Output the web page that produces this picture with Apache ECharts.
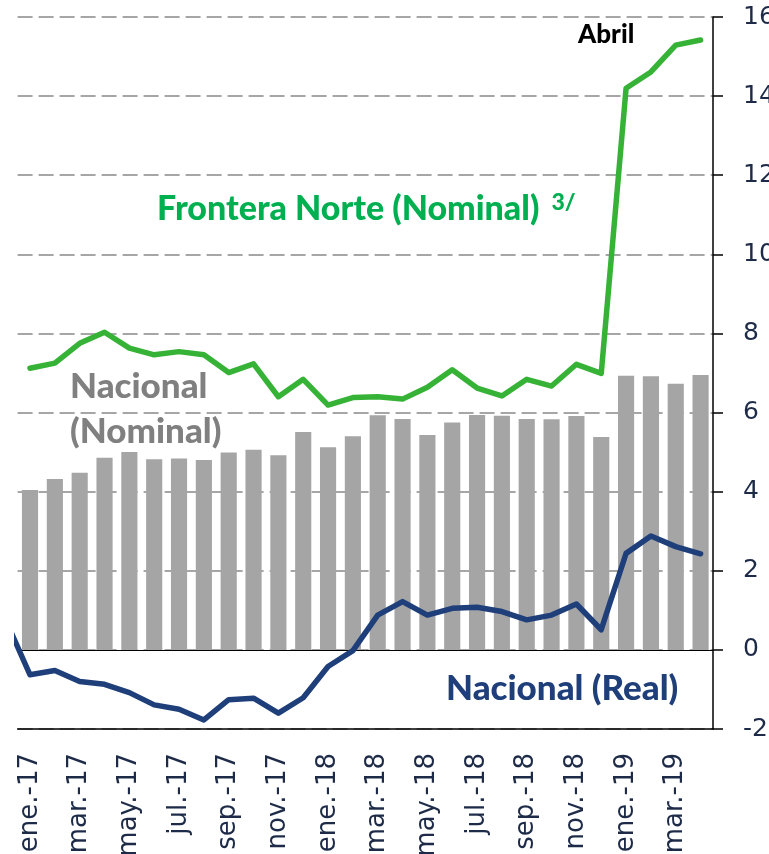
<!DOCTYPE html>
<html>
<head>
<meta charset="utf-8">
<style>
  html, body { margin: 0; padding: 0; background: #fff; }
  #chart { width: 769px; height: 854px; }
</style>
<script src="https://cdn.jsdelivr.net/npm/echarts@6/dist/echarts.min.js"></script>
</head>
<body>
<div id="chart"></div>
<script>
// Months, January 2017 to April 2019
const months = [
  'ene.-17','feb.-17','mar.-17','abr.-17','may.-17','jun.-17','jul.-17','ago.-17','sep.-17','oct.-17','nov.-17','dic.-17',
  'ene.-18','feb.-18','mar.-18','abr.-18','may.-18','jun.-18','jul.-18','ago.-18','sep.-18','oct.-18','nov.-18','dic.-18',
  'ene.-19','feb.-19','mar.-19','abr.-19'
];

// Nacional (Nominal), %
const nacionalNominal = [
  4.04, 4.32, 4.48, 4.86, 5.00, 4.82, 4.84, 4.80, 4.99, 5.06, 4.92, 5.51,
  5.12, 5.40, 5.93, 5.84, 5.43, 5.75, 5.94, 5.92, 5.84, 5.83, 5.91, 5.38,
  6.93, 6.92, 6.73, 6.95
];

// Frontera Norte (Nominal), %
const fronteraNorte = [
  7.12, 7.25, 7.75, 8.03, 7.63, 7.46, 7.54, 7.46, 7.01, 7.23, 6.40, 6.84,
  6.19, 6.38, 6.40, 6.34, 6.64, 7.08, 6.62, 6.42, 6.84, 6.67, 7.22, 6.99,
  14.20, 14.61, 15.29, 15.42
];

// Nacional (Real), %; the series begins one month earlier (dic.-16)
const nacionalRealPrev = 0.78;
const nacionalReal = [
  -0.63, -0.52, -0.80, -0.87, -1.08, -1.39, -1.50, -1.77, -1.26, -1.22, -1.60, -1.21,
  -0.42, -0.02, 0.88, 1.22, 0.88, 1.05, 1.08, 0.97, 0.76, 0.88, 1.16, 0.51,
  2.44, 2.88, 2.61, 2.43
];

// Right-hand axis ticks
const yMin = -2, yMax = 16, yStep = 2;

const navy = '#1f3f7a';
const green = '#36b336';
const labelColor = '#1e2b48';

const greenPts = fronteraNorte.map((v, i) => [i, v]);
const realPts = [[-1, nacionalRealPrev]].concat(nacionalReal.map((v, i) => [i, v]));

const chart = echarts.init(document.getElementById('chart'), null, { renderer: 'canvas' });

chart.setOption({
  animation: false,
  backgroundColor: '#ffffff',
  grid: { left: 17.6, right: 56, top: 17, bottom: 125, containLabel: false, outerBoundsMode: 'none' },
  xAxis: [
    {
      type: 'category',
      data: months,
      position: 'bottom',
      boundaryGap: true,
      axisLine: { onZero: false, lineStyle: { color: '#000', width: 1.5 } },
      axisTick: { interval: 1, length: 11, lineStyle: { color: '#000', width: 1.5 } },
      axisLabel: {
        interval: 1, rotate: 90, margin: 24, hideOverlap: false,
        color: labelColor, fontFamily: 'DejaVu Sans', fontSize: 26
      },
      splitLine: { show: false }
    },
    {
      type: 'value',
      min: -0.5, max: 27.5,
      axisLine: { show: true, onZero: true, lineStyle: { color: '#000', width: 1 } },
      axisTick: { show: false },
      axisLabel: { show: false },
      splitLine: { show: false }
    }
  ],
  yAxis: {
    type: 'value',
    position: 'right',
    min: yMin, max: yMax, interval: yStep,
    axisLine: { show: true, onZero: false, lineStyle: { color: '#000', width: 1.5 } },
    axisTick: { show: true, length: 10, lineStyle: { color: '#000', width: 1.5 } },
    axisLabel: { margin: 30, color: labelColor, fontFamily: 'DejaVu Sans', fontSize: 25 },
    splitLine: { show: true, lineStyle: { color: '#a6a6a6', width: 2, type: [15, 6] } }
  },
  series: [
    {
      name: 'Nacional (Nominal)',
      type: 'bar',
      xAxisIndex: 0,
      data: nacionalNominal,
      barWidth: '65%',
      itemStyle: { color: '#a5a5a5' },
      z: 2
    },
    {
      name: 'Frontera Norte (Nominal)',
      type: 'line',
      xAxisIndex: 1,
      data: greenPts,
      showSymbol: false,
      lineStyle: { color: green, width: 5.5, cap: 'round', join: 'round' },
      clip: true,
      z: 4
    },
    {
      name: 'Nacional (Real)',
      type: 'line',
      xAxisIndex: 1,
      data: realPts,
      showSymbol: false,
      lineStyle: { color: navy, width: 5.5, cap: 'round', join: 'round' },
      clip: true,
      z: 4
    }
  ],
  graphic: [
    {
      type: 'text', left: 578, top: 22, z: 10,
      style: { text: 'Abril', fill: '#000', font: '900 26px Lato' }
    },
    {
      type: 'text', left: 157, top: 191, z: 10,
      style: {
        text: '{a|Frontera Norte (Nominal) }{s|3/}',
        rich: {
          a: { fill: '#00b050', font: '900 34px Lato' },
          s: { fill: '#00b050', font: '900 23px Lato', verticalAlign: 'top', padding: [0, 0, 14, 4] }
        }
      }
    },
    {
      type: 'text', left: 70, top: 364, z: 10,
      style: { text: 'Nacional\n(Nominal)', fill: '#808080', font: '900 35px Lato', lineHeight: 45 }
    },
    {
      type: 'text', left: 446, top: 671, z: 10,
      style: { text: 'Nacional (Real)', fill: navy, font: '900 35px Lato' }
    }
  ]
});
</script>
</body>
</html>
